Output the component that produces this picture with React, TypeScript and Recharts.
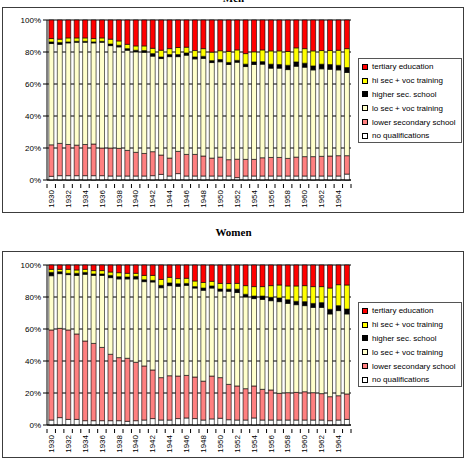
import React from 'react';
import { BarChart, Bar, XAxis, YAxis, CartesianGrid } from 'recharts';

const years = [
  '1930', '1931', '1932', '1933', '1934', '1935', '1936', '1937', '1938', '1939',
  '1940', '1941', '1942', '1943', '1944', '1945', '1946', '1947', '1948', '1949',
  '1950', '1951', '1952', '1953', '1954', '1955', '1956', '1957', '1958', '1959',
  '1960', '1961', '1962', '1963', '1964', '1965',
];

// Men, % of cohort
const menNoQual = [2.3, 2.7, 2.7, 2.7, 2.7, 2.7, 2.7, 2.5, 2.5, 2.5, 2.5, 2.5, 2.7, 3.5, 2.5, 4.0, 2.5, 2.5, 2.5, 2.5, 2.5, 2.5, 1.5, 2.5, 2.5, 2.5, 2.5, 2.5, 2.5, 2.5, 2.5, 2.5, 2.5, 2.5, 2.5, 3.7];
const menLowerSec = [19.7, 20.2, 19.5, 19.1, 19.5, 19.8, 17.3, 17.5, 17.3, 16.0, 14.8, 14.1, 15.0, 12.1, 11.2, 13.9, 13.5, 13.5, 12.5, 11.2, 11.8, 10.2, 11.5, 10.4, 10.4, 11.4, 11.6, 11.6, 11.0, 11.8, 12.1, 12.1, 12.3, 12.5, 12.7, 11.5];
const menLoSecVoc = [63.3, 61.9, 63.5, 64.3, 63.9, 63.2, 66.1, 64.0, 63.4, 62.6, 62.8, 63.2, 59.7, 60.3, 63.4, 59.2, 62.0, 59.7, 61.0, 59.7, 59.6, 59.5, 60.6, 58.0, 59.3, 58.5, 55.8, 55.8, 55.5, 56.8, 55.9, 54.2, 54.7, 54.2, 53.6, 52.0];
const menHigherSec = [1.0, 1.1, 0.6, 0.6, 0.6, 0.6, 0.6, 1.0, 1.0, 1.0, 1.0, 1.1, 1.6, 1.0, 1.3, 1.3, 1.4, 1.2, 1.3, 1.2, 1.4, 1.3, 1.2, 1.5, 1.6, 1.6, 2.5, 2.3, 2.7, 2.7, 2.5, 2.5, 2.9, 3.0, 2.9, 3.1];
const menHiSecVoc = [2.1, 2.1, 2.5, 2.1, 2.1, 2.1, 2.1, 3.0, 2.7, 2.7, 2.7, 2.9, 3.3, 4.2, 3.7, 4.4, 3.6, 4.0, 4.8, 5.3, 5.5, 6.9, 6.5, 6.6, 6.3, 7.3, 8.3, 8.5, 8.6, 8.8, 9.1, 9.4, 8.5, 8.7, 9.4, 11.8];
const menTertiary = [11.6, 12.0, 11.2, 11.2, 11.2, 11.6, 11.2, 12.0, 13.1, 15.2, 16.2, 16.2, 17.7, 18.9, 17.9, 17.2, 17.0, 19.1, 17.9, 20.1, 19.2, 19.6, 18.7, 21.0, 19.9, 18.7, 19.3, 19.3, 19.7, 17.4, 17.9, 19.3, 19.1, 19.1, 18.9, 17.9];

// Women, % of cohort
const womenNoQual = [3.1, 4.6, 3.5, 3.5, 2.7, 2.7, 2.7, 2.7, 2.7, 2.3, 2.7, 3.1, 4.0, 3.1, 3.1, 4.0, 4.4, 4.0, 3.1, 3.8, 4.2, 3.3, 3.1, 3.1, 4.4, 3.1, 3.1, 3.1, 3.1, 3.1, 3.1, 3.1, 3.1, 2.7, 3.1, 3.5];
const womenLowerSec = [56.3, 55.8, 55.9, 53.4, 49.8, 48.3, 45.8, 41.5, 39.4, 39.4, 36.5, 33.8, 30.4, 26.5, 27.7, 26.6, 26.6, 26.0, 24.3, 26.8, 25.4, 22.1, 21.3, 19.6, 20.0, 19.2, 18.8, 16.7, 17.1, 17.3, 17.7, 17.1, 16.5, 15.0, 15.2, 15.9];
const womenLoSecVoc = [33.9, 34.2, 34.6, 36.6, 41.7, 42.5, 45.0, 47.9, 49.2, 49.6, 52.1, 52.7, 55.0, 56.2, 56.3, 56.1, 56.3, 55.6, 56.8, 55.0, 54.1, 58.2, 58.4, 57.3, 54.6, 56.2, 55.8, 57.3, 55.8, 54.8, 53.8, 53.3, 53.9, 51.7, 53.2, 50.0];
const womenHigherSec = [2.1, 1.2, 0.8, 1.3, 1.2, 0.9, 0.9, 1.4, 1.4, 1.2, 1.6, 1.2, 1.0, 1.5, 1.7, 1.6, 1.2, 0.9, 1.4, 1.3, 1.3, 1.3, 2.1, 1.7, 1.6, 2.1, 2.1, 2.3, 2.3, 2.1, 2.5, 2.5, 3.0, 2.9, 3.1, 3.1];
const womenHiSecVoc = [1.9, 1.5, 2.5, 2.1, 1.9, 2.1, 2.1, 2.1, 2.5, 2.3, 1.9, 2.7, 3.1, 3.7, 3.5, 3.2, 3.2, 3.5, 3.5, 2.9, 3.5, 3.5, 3.6, 5.4, 5.9, 5.9, 7.3, 8.1, 8.6, 9.6, 10.0, 10.5, 10.0, 13.3, 13.1, 15.0];
const womenTertiary = [2.7, 2.7, 2.7, 3.1, 2.7, 3.5, 3.5, 4.4, 4.8, 5.2, 5.2, 6.5, 6.5, 9.0, 7.7, 8.5, 8.3, 10.0, 10.9, 10.2, 11.5, 11.6, 11.5, 12.9, 13.5, 13.5, 12.9, 12.5, 13.1, 13.1, 12.9, 13.5, 13.5, 14.4, 12.3, 12.5];

// legend order (top to bottom); stacked in reverse
const series = [
  { key: 'tertiary', name: 'tertiary education', color: '#FF0000' },
  { key: 'hiSecVoc', name: 'hi sec + voc training', color: '#FFFF00' },
  { key: 'higherSec', name: 'higher sec. school', color: '#000000' },
  { key: 'loSecVoc', name: 'lo sec + voc training', color: '#FFFFCC' },
  { key: 'lowerSec', name: 'lower secondary school', color: '#FF8080' },
  { key: 'noQual', name: 'no qualifications', color: '#FFFFFF' },
];

const buildRows = (
  noQual: number[], lowerSec: number[], loSecVoc: number[],
  higherSec: number[], hiSecVoc: number[], tertiary: number[],
) =>
  years.map((year, i) => ({
    year,
    noQual: noQual[i],
    lowerSec: lowerSec[i],
    loSecVoc: loSecVoc[i],
    higherSec: higherSec[i],
    hiSecVoc: hiSecVoc[i],
    tertiary: tertiary[i],
  }));

const menData = buildRows(menNoQual, menLowerSec, menLoSecVoc, menHigherSec, menHiSecVoc, menTertiary);
const womenData = buildRows(womenNoQual, womenLowerSec, womenLoSecVoc, womenHigherSec, womenHiSecVoc, womenTertiary);

const FONT = '"Liberation Sans", Arial, sans-serif';
const CHART_W = 460;
const MARGIN_LEFT = 12;
const MARGIN_RIGHT = 112;
const YAXIS_W = 32;
const BAND = (CHART_W - MARGIN_LEFT - MARGIN_RIGHT - YAXIS_W) / years.length;

const YearTick = (props: any) => {
  const { x, y, payload, index } = props;
  const last = index === years.length - 1;
  return (
    <g>
      <line x1={x - BAND / 2} x2={x - BAND / 2} y1={y - 4} y2={y} stroke="#000" strokeWidth={1} />
      {last && <line x1={x + BAND / 2} x2={x + BAND / 2} y1={y - 4} y2={y} stroke="#000" strokeWidth={1} />}
      {index % 2 === 0 && (
        <text
          x={x}
          y={y + 2}
          transform={`rotate(-90 ${x} ${y + 2})`}
          textAnchor="end"
          dy="0.35em"
          fontSize={8}
          fontFamily={FONT}
          fill="#000"
        >
          {payload.value}
        </text>
      )}
    </g>
  );
};

const LegendBox: React.FC = () => (
  <div
    style={{
      position: 'absolute',
      left: 355,
      top: 50,
      width: 102,
      height: 82,
      border: '1px solid #555',
      background: '#fff',
      fontFamily: FONT,
      fontSize: 8,
      color: '#000',
      paddingTop: 1,
      boxSizing: 'content-box',
    }}
  >
    {series.map((s) => (
      <div key={s.key} style={{ display: 'flex', alignItems: 'center', height: 13.8, whiteSpace: 'nowrap' }}>
        <span
          style={{
            display: 'inline-block',
            width: 4,
            height: 4,
            marginLeft: 3,
            marginRight: 4,
            background: s.color,
            border: '1px solid #000',
          }}
        />
        {s.name}
      </div>
    ))}
  </div>
);

interface PanelProps {
  data: any[];
  top: number;
  height: number;
  marginTop: number;
}

const Panel: React.FC<PanelProps> = ({ data, top, height, marginTop }) => (
  <div
    style={{
      position: 'absolute',
      left: 2,
      top,
      width: CHART_W,
      height,
      border: '1px solid #3c3c3c',
    }}
  >
    <BarChart
      width={CHART_W}
      height={height}
      data={data}
      stackOffset="expand"
      barCategoryGap="22%"
      margin={{ top: marginTop, right: MARGIN_RIGHT, bottom: 2, left: MARGIN_LEFT }}
    >
      <CartesianGrid vertical={false} stroke="#000" strokeWidth={1} />
      <XAxis
        dataKey="year"
        interval={0}
        height={30}
        tick={<YearTick />}
        tickLine={false}
        axisLine={{ stroke: '#000' }}
      />
      <YAxis
        width={YAXIS_W}
        domain={[0, 1]}
        ticks={[0, 0.2, 0.4, 0.6, 0.8, 1]}
        tickFormatter={(v: number) => `${Math.round(v * 100)}%`}
        tick={{ fontSize: 8, fill: '#000', fontFamily: FONT }}
        tickLine={{ stroke: '#000' }}
        tickSize={4}
        axisLine={{ stroke: '#000' }}
      />
      {[...series].reverse().map((s) => (
        <Bar
          key={s.key}
          dataKey={s.key}
          name={s.name}
          stackId="a"
          fill={s.color}
          stroke="#000"
          strokeWidth={0.6}
          isAnimationActive={false}
        />
      ))}
    </BarChart>
    <LegendBox />
  </div>
);

const titleStyle: React.CSSProperties = {
  position: 'absolute',
  left: 0,
  width: 467,
  textAlign: 'center',
  fontFamily: '"Liberation Serif", "Times New Roman", serif',
  fontWeight: 'bold',
  fontSize: 11,
  lineHeight: '12px',
};

const App: React.FC = () => (
  <div style={{ position: 'absolute', left: 0, top: 0, width: 467, height: 460, background: '#fff', overflow: 'hidden' }}>
    <div style={{ ...titleStyle, top: -8 }}>Men</div>
    <Panel data={menData} top={7} height={204} marginTop={12} />
    <div style={{ ...titleStyle, top: 226 }}>Women</div>
    <Panel data={womenData} top={251} height={205} marginTop={13} />
  </div>
);

export default App;
